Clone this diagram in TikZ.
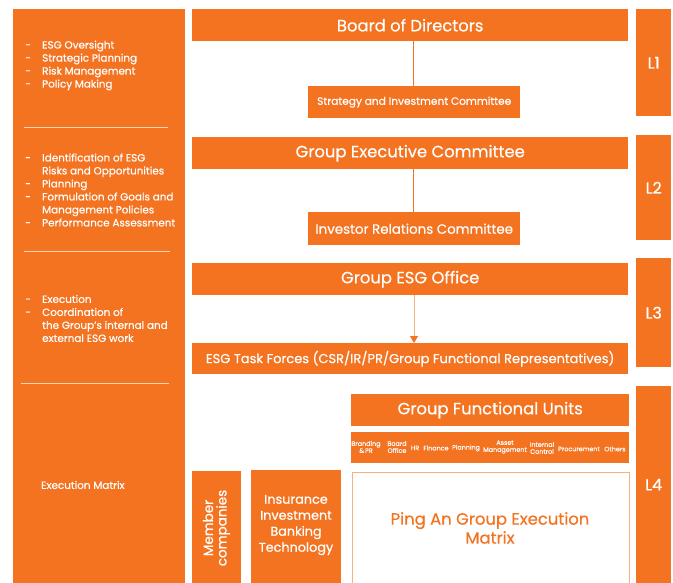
\documentclass[tikz,border=0pt]{standalone}
\usepackage{fontspec}
\setmainfont{Poppins}[FakeBold=0.5]
\usetikzlibrary{arrows.meta}
\definecolor{ora}{HTML}{F37321}
\definecolor{lightora}{HTML}{F9B080}
\definecolor{divl}{HTML}{FBD3B5}
\newcommand{\fs}[2]{\fontsize{#1}{#2}\selectfont}
\newcommand{\dsh}{\makebox[17pt][l]{-}}
\newcommand{\ind}{\makebox[17pt][l]{}}
\begin{document}
\begin{tikzpicture}[x=1pt,y=-1pt,
  box/.style={fill=ora,draw=none,text=white,inner sep=0pt,anchor=north west,align=center},
  lefttext/.style={text=white,inner sep=0pt,anchor=west,align=left,font=\fs{10.4}{13}},
  unit/.style={text=white,inner sep=0pt,align=center,font=\fs{6.4}{10}},
  conn/.style={draw=ora,line width=0.8pt},
  divider/.style={draw=divl,line width=1pt}]
\useasboundingbox (0,0) rectangle (673,583);
% left column
\node[box,minimum width=172pt,minimum height=574pt] (left) at (13,9) {};
\node[lefttext] (t1) at (25,65.5) {\dsh ESG Oversight\\ \dsh Strategic Planning\\ \dsh Risk Management\\ \dsh Policy Making};
\node[lefttext] (t2) at (25,190) {\dsh Identification of ESG\\ \ind Risks and Opportunities\\ \dsh Planning\\ \dsh Formulation of Goals and\\ \ind Management Policies\\ \dsh Performance Assessment};
\node[lefttext] (t3) at (25,318.5) {\dsh Execution\\ \dsh Coordination of\\ \ind the Group's internal and\\ \ind external ESG work};
\node[lefttext] (t4) at (41,485) {Execution Matrix};
\coordinate (d1a) at (24,128); \coordinate (d1b) at (168,128);
\coordinate (d2a) at (24,252); \coordinate (d2b) at (170,252);
\coordinate (d3a) at (21,383); \coordinate (d3b) at (169,383);
\draw[divider] (d1a) -- (d1b);
\draw[divider] (d2a) -- (d2b);
\draw[divider] (d3a) -- (d3b);
% right column
\node[box,minimum width=35pt,minimum height=107pt,font=\fs{16}{18}] (L1) at (636,9) {L1};
\node[box,minimum width=35pt,minimum height=105pt,font=\fs{16}{18}] (L2) at (636,135) {L2};
\node[box,minimum width=35pt,minimum height=109pt,font=\fs{16}{18}] (L3) at (636,258) {L3};
\node[box,minimum width=35pt,minimum height=197pt,font=\fs{16}{18}] (L4) at (636,386) {L4};
% L1
\node[box,minimum width=436pt,minimum height=32pt,font=\fs{16.4}{18}] (bod) at (192,9) {Board of Directors};
\node[box,minimum width=212pt,minimum height=32pt,font=\fs{10.6}{12}] (sic) at (308,86) {Strategy and Investment Committee};
\draw[conn] (sic.north -| 413,0) -- (bod.south -| 413,0);
% L2
\node[box,minimum width=436pt,minimum height=32pt,font=\fs{16.4}{18}] (gec) at (192,137) {Group Executive Committee};
\node[box,minimum width=212pt,minimum height=33pt,font=\fs{13.4}{15}] (irc) at (308,212) {Investor Relations Committee};
\draw[conn] (irc.north -| 413,0) -- (gec.south -| 413,0);
% L3
\node[box,minimum width=436pt,minimum height=32pt,font=\fs{16.4}{18}] (geo) at (192,263) {Group ESG Office};
\node[box,minimum width=436pt,minimum height=31pt,font=\fs{13}{15}] (tf) at (192,343) {ESG Task Forces (CSR/IR/PR/Group Functional Representatives)};
\draw[draw=lightora,line width=0.8pt,-{Triangle[width=8pt,length=7pt,color=ora]}] (geo.south -| 414,0) -- (tf.north -| 414,0);
% L4
\node[box,minimum width=278pt,minimum height=32pt,font=\fs{16.4}{18}] (gfu) at (351,394) {Group Functional Units};
\node[box,minimum width=278pt,minimum height=31pt] (units) at (351,432) {};
\node[unit] (u1) at (366,447) {Branding\\[-3pt]\&\,PR};
\node[unit] (u2) at (397,447) {Board\\[-3pt]Office};
\node[unit] (u3) at (415,448) {HR};
\node[unit] (u4) at (436,448) {Finance};
\node[unit] (u5) at (466,448) {Planning};
\node[unit] (u6) at (505,447) {Asset\\[-3pt]Management};
\node[unit] (u7) at (542,448) {Internal\\[-3pt]Control};
\node[unit] (u8) at (579,449) {Procurement};
\node[unit] (u9) at (615,449) {Others};
\node[draw=lightora,line width=1.3pt,fill=white,inner sep=0pt,anchor=north west,minimum width=277pt,minimum height=115pt] (mat) at (351.5,471.5) {};
\node[text=ora,align=center,font=\fs{16.4}{19}] (matt) at (490,528) {Ping An Group Execution\\Matrix};
\node[box,minimum width=49pt,minimum height=112pt] (mem) at (192,471) {};
\node[text=white,rotate=90,align=center,font=\fs{13.5}{13.5}] (memt) at (216.5,528) {Member\\companies};
\node[box,minimum width=90pt,minimum height=113pt] (ins) at (251,470) {};
\node[text=white,align=center,font=\fs{12.8}{16}] (inst) at (296,525) {Insurance\\Investment\\Banking\\Technology};
\end{tikzpicture}
\end{document}
